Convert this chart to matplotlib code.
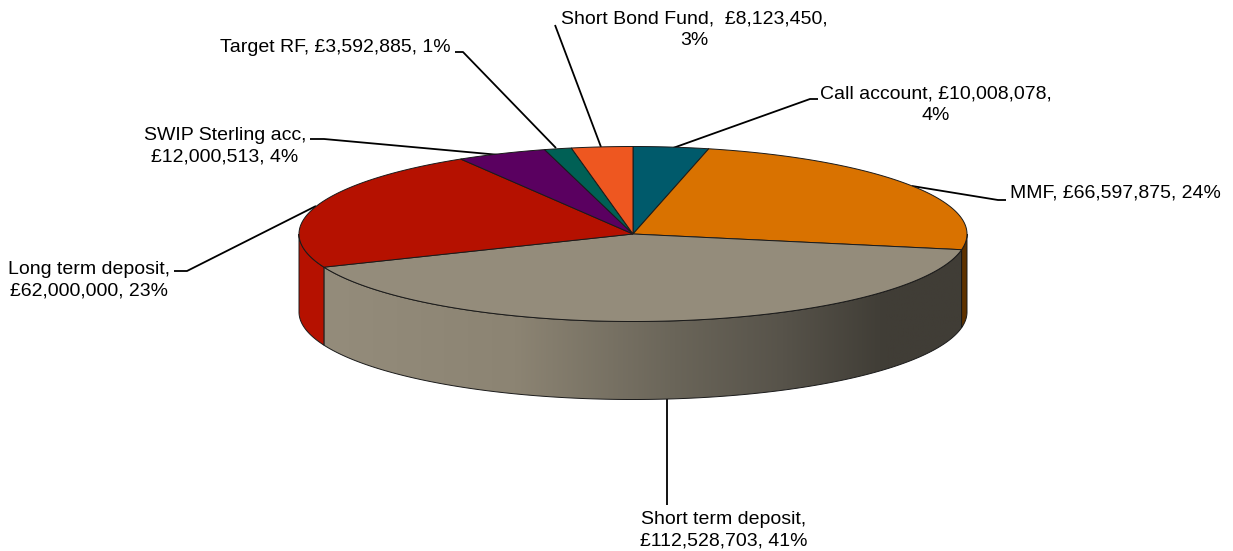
import numpy as np
import matplotlib
matplotlib.use("Agg")
import matplotlib.pyplot as plt
from matplotlib.patches import Polygon
from matplotlib.colors import LinearSegmentedColormap

names = ["Call account", "MMF", "Short term deposit", "Long term deposit",
         "SWIP Sterling acc", "Target RF", "Short Bond Fund"]
values = [10008078, 66597875, 112528703, 62000000, 12000513, 3592885, 8123450]
percents = ["4%", "24%", "41%", "23%", "4%", "1%", "3%"]
colors = ["#005a6b", "#d97200", "#948c7b", "#b51100", "#5a0060", "#006055", "#ee5720"]
side_colors = ["#003a45", "#5e3200", None, "#b51100", "#3a0040", "#004038", "#a03c15"]

# pie geometry in image pixels
cx, cy = 633, 234
rx, ry = 334, 87.5
depth = 78


def rim(a0, a1, n=200, dy=0):
    t = np.radians(np.linspace(a0, a1, n))
    return np.column_stack([cx + rx * np.sin(t), cy - ry * np.cos(t) + dy])


plt.rcParams['font.family'] = ['Liberation Sans', 'DejaVu Sans']
fig = plt.figure(figsize=(12.33, 5.51), dpi=100)
ax = fig.add_axes([0, 0, 1, 1])
ax.axis('off')

edges = np.concatenate([[0], np.cumsum(values)]) / sum(values) * 360

# leader lines, go under the pie top
leaders = [
    [(673, 148), (810, 99), (818, 99)],
    [(912, 186), (998, 200), (1006, 200)],
    [(667, 398), (667, 505)],
    [(316, 206), (187, 271), (174, 271)],
    [(500, 155), (324, 139), (310, 139)],
    [(556, 148), (463, 52), (455, 52)],
    [(601, 147), (555, 25)],
]
for pts in leaders:
    xs, ys = zip(*pts)
    ax.plot(xs, ys, color='black', lw=1.3, zorder=1, solid_capstyle='butt')

# side walls: only the front half of the rim shows
grad = LinearSegmentedColormap.from_list("side", [
    (0.00, "#948c7b"), (0.30, "#8c8473"), (0.55, "#6a6559"),
    (0.72, "#57534a"), (0.88, "#403d36"), (1.00, "#403d36")])
for i, name in enumerate(names):
    a0 = max(edges[i], 90)
    a1 = min(edges[i + 1], 270)
    if a1 <= a0:
        continue
    top = rim(a0, a1)
    bottom = rim(a1, a0, dy=depth)
    wall = np.vstack([top, bottom])
    if side_colors[i] is None:
        poly = Polygon(wall, closed=True, fc='none', ec='none', zorder=2)
        ax.add_patch(poly)
        xmin, xmax = wall[:, 0].min(), wall[:, 0].max()
        im = ax.imshow(np.linspace(0, 1, 256)[None, :], cmap=grad, aspect='auto',
                       extent=(xmin, xmax, cy + ry + depth + 2, cy - 2), zorder=2)
        im.set_clip_path(poly)
        ax.add_patch(Polygon(wall, closed=True, fc='none', ec='#1a1a1a', lw=0.7, zorder=3))
    else:
        ax.add_patch(Polygon(wall, closed=True, fc=side_colors[i], ec='#1a1a1a', lw=0.7, zorder=3))
ax.set_xlim(0, 1233)
ax.set_ylim(551, 0)

# top face
for i, name in enumerate(names):
    arc = rim(edges[i], edges[i + 1])
    ax.add_patch(Polygon(np.vstack([[(cx, cy)], arc]), closed=True, fc=colors[i],
                         ec='#1a1a1a', lw=0.7, zorder=4))

# data labels, wrapped like the original
amounts = ["£{:,}".format(v) for v in values]
label_pos = [
    (936, 105, True),
    (1115, 193, False),
    (724, 530, True),
    (89, 280, True),
    (225, 146, True),
    (335, 47, False),
    (694, 30, True),
]
for i, name in enumerate(names):
    x, y, wrapped = label_pos[i]
    sep = ",\n" if wrapped else ", "
    if name == "Short Bond Fund":
        text = f"{name},  {amounts[i]},\n{percents[i]}"
    elif name == "Call account":
        text = f"{name}, {amounts[i]},\n{percents[i]}"
    else:
        text = f"{name}{sep}{amounts[i]}, {percents[i]}"
    ax.text(x, y, text, ha='center', va='center', fontsize=14, color='black',
            linespacing=1.36, zorder=6)

fig.savefig("out.png", dpi=100, facecolor='white')
